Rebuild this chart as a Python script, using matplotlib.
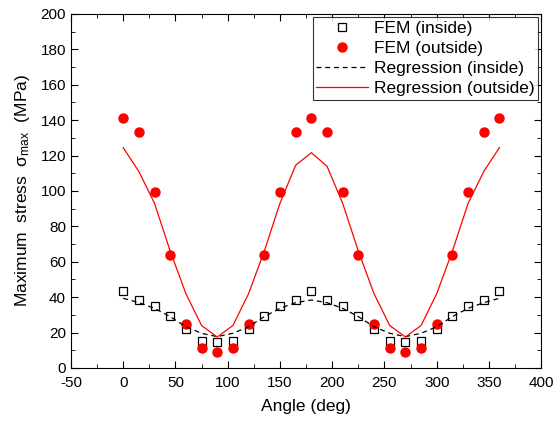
import matplotlib
matplotlib.use("Agg")
import matplotlib.pyplot as plt
from matplotlib.ticker import MultipleLocator

plt.rcParams['font.family'] = ['Liberation Sans', 'DejaVu Sans']
plt.rcParams['mathtext.fontset'] = 'custom'
plt.rcParams['mathtext.rm'] = 'Liberation Sans'
plt.rcParams['mathtext.it'] = 'Liberation Sans'
plt.rcParams['axes.unicode_minus'] = False

angle = [0, 15, 30, 45, 60, 75, 90, 105, 120, 135, 150, 165, 180,
         195, 210, 225, 240, 255, 270, 285, 300, 315, 330, 345, 360]

fem_inside = [43.5, 38.4, 35.2, 29.5, 21.9, 15.4, 14.5, 15.4, 21.9, 29.5, 35.2, 38.4, 43.5,
              38.4, 35.2, 29.5, 21.9, 15.4, 14.5, 15.4, 21.9, 29.5, 35.2, 38.4, 43.5]
fem_outside = [141.4, 133.5, 99.3, 63.7, 24.9, 11.1, 9.2, 11.1, 24.9, 63.7, 99.3, 133.5, 141.4,
               133.5, 99.3, 63.7, 24.9, 11.1, 9.2, 11.1, 24.9, 63.7, 99.3, 133.5, 141.4]
reg_inside = [39.4, 36.9, 33.7, 29.0, 23.3, 19.6, 17.7, 19.6, 23.3, 29.0, 33.7, 36.9, 38.4,
              36.9, 33.7, 29.0, 23.3, 19.6, 17.7, 19.6, 23.3, 29.0, 33.7, 36.9, 39.4]
reg_outside = [124.5, 111, 93, 66, 42, 24, 17.5, 24, 42, 66, 93, 114.5, 121.6,
               114, 93, 66, 42, 24, 17.5, 24, 42, 66, 93, 111, 124.5]

fig = plt.figure(figsize=(5.54, 4.22), dpi=100)
ax = fig.add_axes([0.128, 0.128, 0.849, 0.839])

ax.plot(angle, fem_inside, 's', mfc='white', mec='black', ms=5.5, mew=0.9, label='FEM (inside)')
ax.plot(angle, fem_outside, 'o', color='#ff0000', ms=6.5, label='FEM (outside)')
ax.plot(angle, reg_inside, '--', color='black', lw=0.9, dashes=(4, 3), label='Regression (inside)')
ax.plot(angle, reg_outside, '-', color='#ff0000', lw=0.9, label='Regression (outside)')

ax.set_xlim(-50, 400)
ax.set_ylim(0, 200)
ax.xaxis.set_major_locator(MultipleLocator(50))
ax.xaxis.set_minor_locator(MultipleLocator(25))
ax.yaxis.set_major_locator(MultipleLocator(20))
ax.yaxis.set_minor_locator(MultipleLocator(10))
ax.tick_params(which='both', direction='in', top=True, right=True, labelsize=11)
ax.tick_params(which='major', length=5)
ax.tick_params(which='minor', length=3)
ax.tick_params(axis='x', pad=6)

ax.set_xlabel('Angle (deg)', fontsize=12.5, labelpad=6)
ax.set_ylabel(r'Maximum  stress  $\sigma_{\rm max}$  (MPa)', fontsize=12.5, labelpad=6)

leg = ax.legend(loc='upper right', fontsize=12.5, frameon=True, fancybox=False,
                edgecolor='black', handlelength=3.0, borderpad=0.2, labelspacing=0.28,
                handletextpad=0.3, borderaxespad=0.2)
leg.get_frame().set_linewidth(0.8)

fig.savefig('out.png', dpi=100)
